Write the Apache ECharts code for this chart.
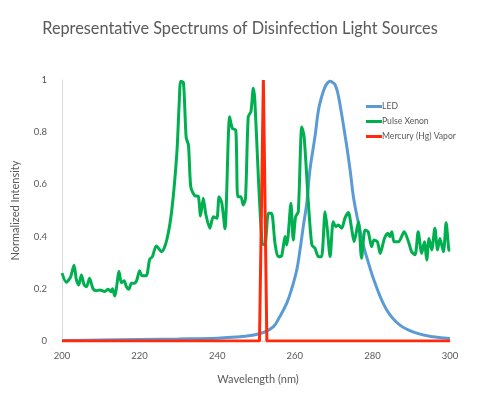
<!DOCTYPE html>
<html>
<head>
<meta charset="utf-8">
<script src="https://cdn.jsdelivr.net/npm/echarts@6/dist/echarts.min.js"></script>
<style>html,body{margin:0;padding:0;background:#fff}#c{width:480px;height:395px}</style>
</head>
<body>
<div id="c"></div>
<script>
var titleText = 'Representative Spectrums of Disinfection Light Sources';
var seriesNames = ['LED', 'Pulse Xenon', 'Mercury (Hg) Vapor'];
var xTicks = [200, 220, 240, 260, 280, 300];
var yTicks = [0, 0.2, 0.4, 0.6, 0.8, 1];

var ledWl  = [200, 210, 220, 230, 240, 245, 249, 252, 254.5, 256, 257.9, 259.3, 260.5, 261.3, 262.2, 263.1, 263.9, 265.2, 266.1, 267.0, 267.8, 268.5, 269.1, 269.8, 270.4, 271.0, 271.6, 272.5, 273.4, 274.3, 275.1, 276.0, 276.8, 277.6, 278.5, 280.7, 283.7, 287.1, 291.4, 295.7, 300];
var ledVal = [0.002, 0.004, 0.006, 0.008, 0.011, 0.015, 0.022, 0.033, 0.055, 0.09, 0.144, 0.205, 0.272, 0.345, 0.44, 0.53, 0.655, 0.783, 0.885, 0.94, 0.974, 0.99, 0.995, 0.99, 0.981, 0.955, 0.91, 0.83, 0.745, 0.65, 0.553, 0.48, 0.425, 0.37, 0.323, 0.221, 0.119, 0.061, 0.03, 0.016, 0.01];

var xenonWl  = [200.0, 201.1, 202.2, 203.1, 203.7, 204.3, 205.0, 205.7, 206.3, 207.1, 208.0, 208.8, 209.7, 211.0, 211.9, 212.6, 213.0, 213.6, 214.0, 214.7, 215.3, 216.0, 216.6, 217.2, 217.9, 218.7, 219.3, 220.0, 220.6, 221.7, 222.6, 223.3, 224.3, 225.7, 227.0, 228.3, 229.6, 230.2, 230.6, 231.3, 232.0, 232.6, 233.2, 234.3, 235.1, 235.7, 236.4, 237.1, 238.1, 239.0, 239.9, 240.5, 241.2, 242.0, 243.2, 243.9, 244.8, 245.3, 246.1, 246.7, 247.3, 248.0, 248.7, 249.3, 249.7, 250.6, 251.6, 252.3, 253.2, 254.0, 254.9, 255.7, 256.6, 257.5, 257.9, 258.3, 259.0, 259.6, 260.2, 260.9, 261.8, 262.4, 263.5, 264.4, 265.2, 266.1, 266.9, 267.8, 268.4, 269.1, 269.9, 270.6, 271.2, 272.1, 272.9, 273.8, 274.7, 275.3, 276.4, 277.2, 278.1, 278.9, 279.8, 280.4, 281.3, 282.0, 283.1, 284.0, 284.5, 285.0, 285.6, 286.7, 288.2, 289.3, 290.1, 291.0, 291.8, 292.7, 293.4, 294.0, 294.6, 295.3, 296.1, 296.8, 297.4, 298.3, 299.0, 299.7, 300.0];
var xenonVal = [0.26, 0.225, 0.245, 0.29, 0.235, 0.215, 0.253, 0.215, 0.208, 0.24, 0.2, 0.193, 0.195, 0.19, 0.198, 0.189, 0.2, 0.172, 0.2, 0.266, 0.223, 0.231, 0.208, 0.198, 0.221, 0.221, 0.234, 0.269, 0.25, 0.25, 0.313, 0.323, 0.364, 0.342, 0.387, 0.502, 0.72, 0.91, 0.995, 0.99, 0.78, 0.75, 0.59, 0.556, 0.555, 0.479, 0.547, 0.483, 0.432, 0.476, 0.47, 0.553, 0.528, 0.43, 0.859, 0.815, 0.808, 0.553, 0.553, 0.521, 0.547, 0.859, 0.879, 0.968, 0.923, 0.63, 0.374, 0.368, 0.489, 0.489, 0.374, 0.323, 0.326, 0.4, 0.368, 0.406, 0.528, 0.387, 0.476, 0.495, 0.82, 0.783, 0.528, 0.368, 0.355, 0.323, 0.323, 0.495, 0.425, 0.323, 0.457, 0.438, 0.444, 0.432, 0.47, 0.492, 0.425, 0.38, 0.457, 0.317, 0.425, 0.419, 0.361, 0.387, 0.38, 0.335, 0.393, 0.413, 0.4, 0.419, 0.38, 0.38, 0.419, 0.38, 0.342, 0.33, 0.419, 0.336, 0.38, 0.31, 0.393, 0.349, 0.432, 0.349, 0.393, 0.342, 0.453, 0.349, 0.345];

var hgWl  = [200, 250.9, 251.9, 252.8, 300];
var hgVal = [0, 0, 1, 0, 0];

function zip(a, b) { return a.map(function (v, i) { return [v, b[i]]; }); }

var FONT = 'Lato, "Open Sans", sans-serif';
var chart = echarts.init(document.getElementById('c'), null, { renderer: 'canvas' });
chart.setOption({
  animation: false,
  backgroundColor: '#ffffff',
  title: {
    text: titleText, left: 'center', top: 16,
    textStyle: { fontFamily: FONT, fontSize: 16.3, fontWeight: 'normal', color: '#595959' }
  },
  legend: {
    data: seriesNames, orient: 'vertical', left: 361, top: 97,
    itemWidth: 16, itemHeight: 3, itemGap: 6, icon: 'rect',
    textStyle: { fontFamily: FONT, fontSize: 8.6, color: '#595959', padding: [0, 0, 0, -5] }
  },
  grid: { left: 62, right: 30, top: 80, bottom: 54 },
  xAxis: {
    type: 'value', min: xTicks[0], max: xTicks[xTicks.length - 1], interval: 20,
    name: 'Wavelength (nm)', nameLocation: 'middle', nameGap: 33,
    nameTextStyle: { fontFamily: FONT, fontSize: 11, color: '#595959', padding: [0, 0, 0, 4] },
    axisLine: { show: true, lineStyle: { color: '#d9d9d9', width: 1 } },
    axisTick: { show: false }, splitLine: { show: false },
    axisLabel: { fontFamily: FONT, fontSize: 9.5, color: '#595959', margin: 10 }
  },
  yAxis: {
    type: 'value', min: yTicks[0], max: yTicks[yTicks.length - 1], interval: 0.2,
    name: 'Normalized Intensity', nameLocation: 'middle', nameGap: 41,
    nameTextStyle: { fontFamily: FONT, fontSize: 11, color: '#595959' },
    axisLine: { show: true, lineStyle: { color: '#d9d9d9', width: 1 } },
    axisTick: { show: false }, splitLine: { show: false },
    axisLabel: { fontFamily: FONT, fontSize: 9.5, color: '#595959', margin: 15 }
  },
  series: [
    { name: seriesNames[0], type: 'line', data: zip(ledWl, ledVal), smooth: 0.4, showSymbol: false,
      lineStyle: { color: '#5b9bd5', width: 3 }, itemStyle: { color: '#5b9bd5' } },
    { name: seriesNames[1], type: 'line', data: zip(xenonWl, xenonVal), smooth: 0.25, showSymbol: false,
      lineStyle: { color: '#00b050', width: 3 }, itemStyle: { color: '#00b050' } },
    { name: seriesNames[2], type: 'line', data: zip(hgWl, hgVal), smooth: false, showSymbol: false,
      lineStyle: { color: '#ff2a0a', width: 3 }, itemStyle: { color: '#ff2a0a' } }
  ]
});
</script>
</body>
</html>
